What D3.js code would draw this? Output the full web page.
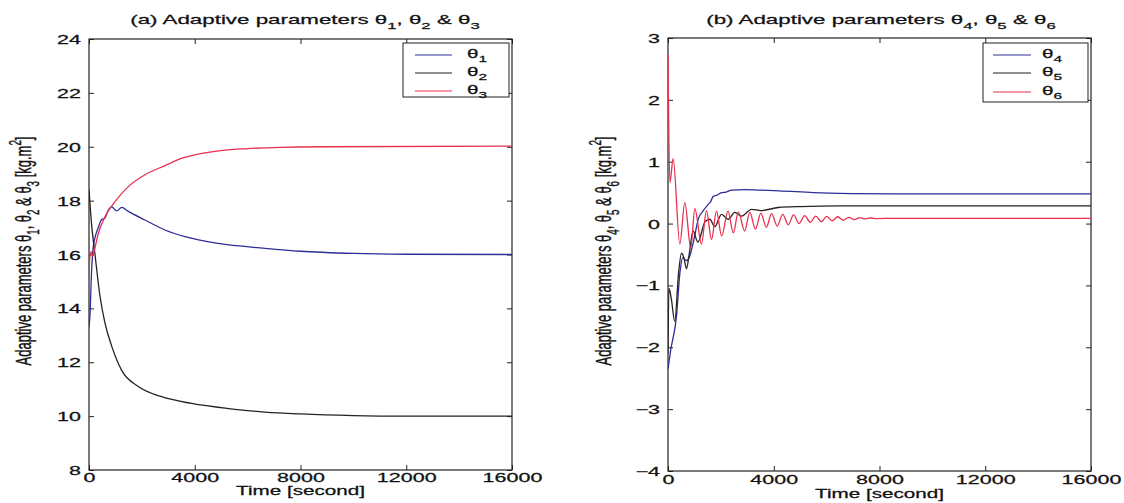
<!DOCTYPE html>
<html>
<head>
<meta charset="utf-8">
<script src="https://cdn.jsdelivr.net/npm/d3@7"></script>
<style>
  body { margin: 0; background: #fff; }
  svg { display: block; }
  text { font-family: "Liberation Sans", Arial, Helvetica, sans-serif; fill: #111; stroke: #111; stroke-width: 0.25; }
</style>
</head>
<body>
<svg id="chart" width="1124" height="503"></svg>
<script>
// ---- data: [time (s), value] ----
const theta1 = [[0,13.3],[40,13.8],[90,15.2],[164,16.3],[353,17.0],[479,17.3],[600,17.35],[731,17.65],[858,17.77],[1046,17.62],[1236,17.75],[1487,17.6],[2118,17.28],[2874,16.91],[3631,16.66],[4892,16.41],[6657,16.23],[8000,16.12],[10000,16.04],[12000,16.01],[16000,16.0]];
const theta2 = [[0,18.4],[100,17.1],[227,16.0],[416,14.45],[605,13.45],[858,12.6],[1236,11.7],[1866,11.1],[2748,10.72],[3884,10.47],[5270,10.28],[6657,10.15],[8000,10.08],[10000,10.02],[12000,10.0],[16000,10.0]];
const theta3 = [[0,15.2],[30,15.9],[80,16.1],[140,15.95],[200,16.15],[353,16.78],[605,17.4],[983,17.96],[1487,18.52],[2150,18.98],[2874,19.3],[3442,19.55],[4703,19.82],[6000,19.93],[7224,19.98],[9000,20.0],[16000,20.02]];

const theta4 = [[0,-2.35],[100,-2.05],[320,-1.5],[450,-0.8],[560,-0.55],[700,-0.6],[800,-0.55],[1000,-0.22],[1150,0.08],[1320,0.2],[1520,0.31],[1620,0.36],[1710,0.44],[1850,0.46],[2020,0.5],[2200,0.51],[2400,0.54],[2900,0.55],[3500,0.54],[4200,0.53],[5500,0.5],[7000,0.485],[8500,0.48],[16000,0.48]];
const theta5 = [[0,-2.1],[35,-1.05],[120,-1.2],[255,-1.58],[400,-0.8],[510,-0.48],[600,-0.55],[700,-0.73],[800,-0.5],[950,-0.12],[1130,-0.3],[1400,0.03],[1580,0.07],[1770,-0.05],[2023,0.15],[2276,0.07],[2528,0.18],[2780,0.12],[3160,0.23],[3530,0.21],[4170,0.26],[5000,0.275],[6500,0.285],[16000,0.285]];
const theta6 = [[0,2.75],[70,0.66],[195,1.05],[447,-0.33],[636,0.34],[862,-0.40],[1015,0.24],[1267,-0.33],[1456,0.21],[1645,-0.26],[1834,0.2],[2030,-0.2],[2270,0.2],[2470,-0.15],[2660,0.19],[2900,-0.12],[3094,0.18],[3310,-0.09],[3510,0.17],[3720,-0.06],[3920,0.16],[4130,-0.04],[4340,0.15],[4550,-0.02],[4750,0.14],[4960,0.0],[5170,0.13],[5380,0.02],[5590,0.12],[5800,0.03],[6000,0.115],[6210,0.045],[6420,0.11],[6630,0.055],[6840,0.10],[7050,0.065],[7250,0.095],[7460,0.075],[7670,0.09],[7900,0.08],[8500,0.085],[12000,0.085],[16000,0.085]];

const timeTicks = [0, 4000, 8000, 12000, 16000];
const ticksA = [8, 10, 12, 14, 16, 18, 20, 22, 24];
const ticksB = [-4, -3, -2, -1, 0, 1, 2, 3];

const colors = { blue: "#2e2e98", dark: "#2a211f", red: "#e8304e" };
const SX = 1.72; // horizontal stretch of the figure's lettering

const svg = d3.select("#chart");

function stretched(parent, x, y, anchor, size, rotate) {
  const t = parent.append("text")
    .attr("transform", `translate(${x},${y}) scale(${SX},1)` + (rotate ? " rotate(-90)" : ""))
    .attr("text-anchor", anchor)
    .attr("font-size", size);
  return t;
}

// text with θ and numbered subscripts, e.g. parts = ["Adaptive parameters θ", ["1"], ", θ", ["2"]]
function richText(t, parts, size) {
  let shift = 0;
  parts.forEach(p => {
    if (Array.isArray(p)) {
      const sup = p[1] === "sup";
      const d = sup ? -size * 0.45 : size * 0.35;
      t.append("tspan").attr("dy", d - shift).attr("font-size", size * 0.75).text(p[0]);
      shift = d;
    } else {
      t.append("tspan").attr("dy", -shift).text(p);
      shift = 0;
    }
  });
}

function panel(cfg) {
  const x = d3.scaleLinear().domain([0, 16000]).range([cfg.left, cfg.right]);
  const y = d3.scaleLinear().domain(cfg.yDomain).range([cfg.bottom, cfg.top]);
  const g = svg.append("g");

  const clipId = "clip" + cfg.id;
  svg.append("clipPath").attr("id", clipId).append("rect")
    .attr("x", cfg.left).attr("y", cfg.top)
    .attr("width", cfg.right - cfg.left).attr("height", cfg.bottom - cfg.top);

  // axes with inward ticks on all four sides
  const tick = 5;
  const styleAxis = sel => {
    sel.select(".domain").remove();
    sel.selectAll("line").attr("stroke", "#222").attr("stroke-width", 1);
    sel.selectAll("text").attr("fill", "#111")
      .attr("font-family", '"Liberation Sans", Arial, sans-serif')
      .attr("font-size", 12.5);
  };
  const ax = g.append("g").attr("transform", `translate(0,${cfg.bottom})`)
    .call(d3.axisBottom(x).tickValues(timeTicks).tickSizeInner(-tick).tickSizeOuter(0).tickPadding(cfg.xPad).tickFormat(d3.format("d")))
    .call(styleAxis);
  ax.selectAll("text").attr("transform", `scale(${SX},1)`);

  g.append("g").attr("transform", `translate(0,${cfg.top})`)
    .call(d3.axisTop(x).tickValues(timeTicks).tickSizeInner(-tick).tickSizeOuter(0).tickFormat(""))
    .call(styleAxis);

  const ay = g.append("g").attr("transform", `translate(${cfg.left},0)`)
    .call(d3.axisLeft(y).tickValues(cfg.yTicks).tickSizeInner(-tick).tickSizeOuter(0).tickPadding(8).tickFormat(d3.format("d")))
    .call(styleAxis);
  ay.selectAll("text")
    .attr("transform", `scale(${SX},1)`)
    .attr("x", -8 / SX)
    .attr("dy", "0.36em");

  g.append("g").attr("transform", `translate(${cfg.right},0)`)
    .call(d3.axisRight(y).tickValues(cfg.yTicks).tickSizeInner(-tick).tickSizeOuter(0).tickFormat(""))
    .call(styleAxis);

  // frame
  g.append("rect")
    .attr("x", cfg.left).attr("y", cfg.top)
    .attr("width", cfg.right - cfg.left).attr("height", cfg.bottom - cfg.top)
    .attr("fill", "none").attr("stroke", "#222").attr("stroke-width", 1.2);

  // series
  const line = d3.line().x(d => x(d[0])).y(d => y(d[1])).curve(d3.curveMonotoneX);
  const lines = g.append("g").attr("clip-path", `url(#${clipId})`);
  cfg.series.forEach(s => {
    lines.append("path").datum(s.data)
      .attr("d", line)
      .attr("fill", "none")
      .attr("stroke", s.color)
      .attr("stroke-width", 1.3)
      .attr("stroke-linejoin", "round");
  });

  // legend
  const L = cfg.legend;
  g.append("rect").attr("x", L.x0).attr("y", L.y0)
    .attr("width", L.x1 - L.x0).attr("height", L.y1 - L.y0)
    .attr("fill", "#fff").attr("stroke", "#222").attr("stroke-width", 1);
  cfg.series.forEach((s, i) => {
    const yy = L.rows[i];
    g.append("line").attr("x1", L.lx0).attr("x2", L.lx1).attr("y1", yy).attr("y2", yy)
      .attr("stroke", s.color).attr("stroke-width", 1);
    const t = stretched(g, L.tx, yy + 3, "start", 12);
    richText(t, ["θ", [s.sub]], 12);
  });

  // title
  const title = stretched(svg, cfg.titleX, 24, "middle", 13);
  richText(title, cfg.title, 13);

  // axis labels
  const xl = stretched(svg, (cfg.left + cfg.right) / 2, cfg.xLabelY, "middle", 12);
  xl.text("Time [second]");

  const yl = stretched(svg, cfg.yLabelX, cfg.yLabelY, "middle", 13, true);
  richText(yl, cfg.yLabel, 13);
}

panel({
  id: "A", left: 89, right: 512, top: 39, bottom: 470,
  yDomain: [8, 24], yTicks: ticksA, xPad: 3,
  series: [
    { data: theta1, color: colors.blue, sub: "1" },
    { data: theta2, color: colors.dark, sub: "2" },
    { data: theta3, color: colors.red, sub: "3" }
  ],
  legend: { x0: 403, x1: 509, y0: 43, y1: 97, rows: [55, 73, 91], lx0: 415, lx1: 452, tx: 467 },
  titleX: 305,
  title: ["(a) Adaptive parameters  θ", ["1"], ", θ", ["2"], " & θ", ["3"]],
  xLabelY: 495,
  yLabelX: 31, yLabelY: 251,
  yLabel: ["Adaptive parameters θ", ["1"], ", θ", ["2"], " & θ", ["3"], " [kg.m", ["2", "sup"], "]"]
});

panel({
  id: "B", left: 668, right: 1091, top: 38, bottom: 471,
  yDomain: [-4, 3], yTicks: ticksB, xPad: 4,
  series: [
    { data: theta4, color: colors.blue, sub: "4" },
    { data: theta5, color: colors.dark, sub: "5" },
    { data: theta6, color: colors.red, sub: "6" }
  ],
  legend: { x0: 983, x1: 1088, y0: 43, y1: 102, rows: [55, 73, 92], lx0: 993, lx1: 1031, tx: 1042 },
  titleX: 881,
  title: ["(b) Adaptive parameters  θ", ["4"], ", θ", ["5"], " & θ", ["6"]],
  xLabelY: 498,
  yLabelX: 611, yLabelY: 251,
  yLabel: ["Adaptive parameters θ", ["4"], ", θ", ["5"], " & θ", ["6"], " [kg.m", ["2", "sup"], "]"]
});
</script>
</body>
</html>
